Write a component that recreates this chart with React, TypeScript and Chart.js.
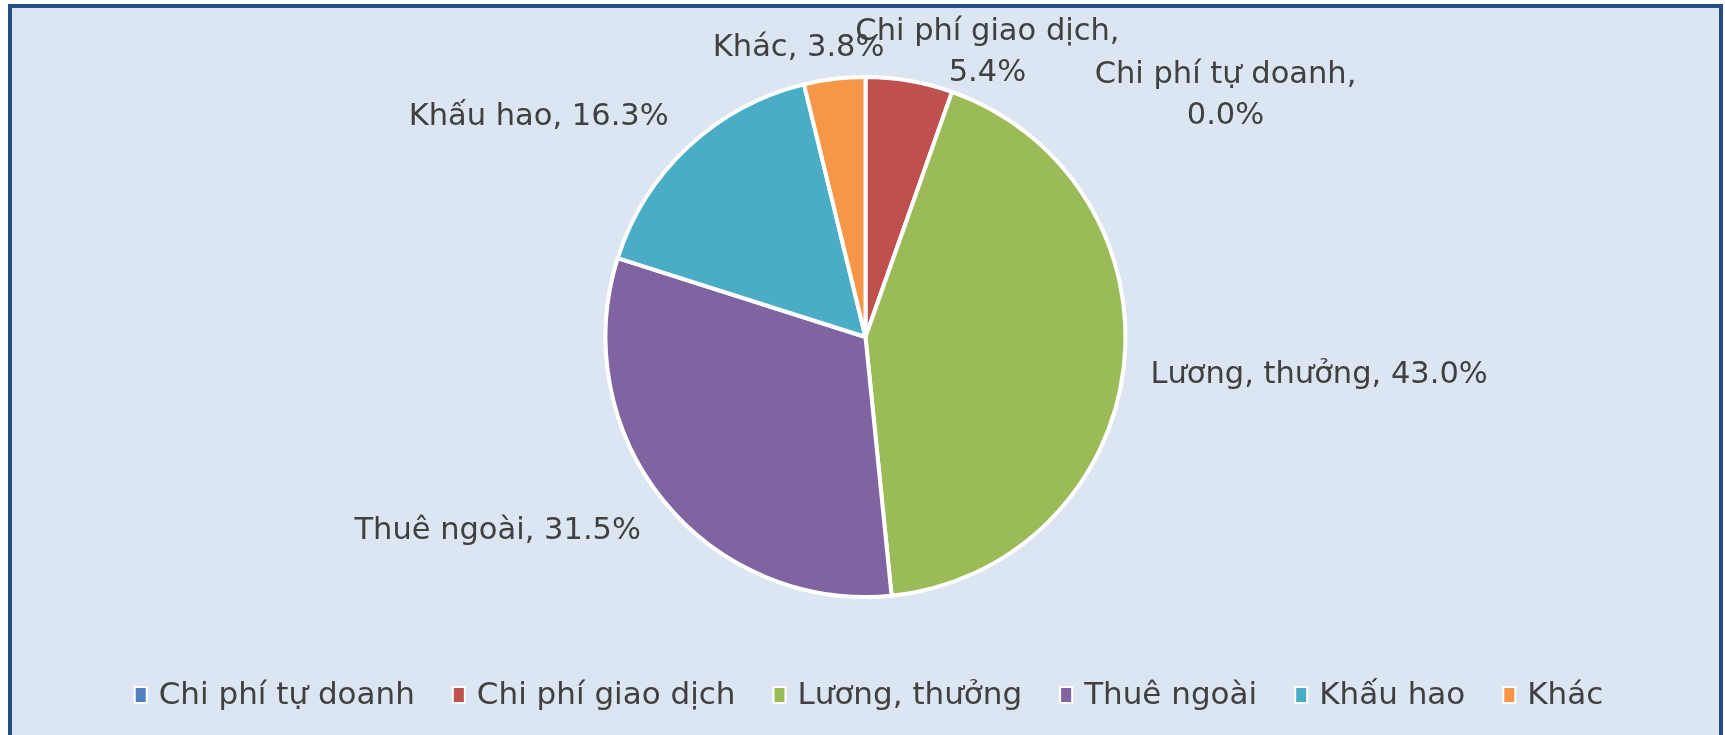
import React, { useEffect, useRef } from "react";
import { Chart, registerables } from "chart.js";

Chart.register(...registerables);

// ---- data ----
const categories = ["Chi phí tự doanh", "Chi phí giao dịch", "Lương, thưởng", "Thuê ngoài", "Khấu hao", "Khác"];
const shares = [0.0, 5.4, 43.0, 31.5, 16.3, 3.8];
const sliceColors = ["#4F81BD", "#C0504D", "#9BBB59", "#8064A2", "#4BACC6", "#F79646"];

// ---- style / layout hints ----
const FONT = '"DejaVu Sans", sans-serif';
const FONT_SIZE = 31;
const LABEL_FONT_SIZE = 30.5;
const TEXT = "#404040";
const labelWrap = [true, true, false, false, false, false];
const labelNudge = [[360, 43], [74, -4], [3, 4], [-4, 15], [-3, -12], [-33, -7]];

const labelPlugin = {
  id: "sliceLabels",
  afterDatasetsDraw(chart: any) {
    const ctx = chart.ctx;
    const meta = chart.getDatasetMeta(0);
    ctx.save();
    ctx.font = `${LABEL_FONT_SIZE}px ${FONT}`;
    ctx.fillStyle = TEXT;
    ctx.textBaseline = "middle";
    meta.data.forEach((arc: any, i: number) => {
      const { x, y, startAngle, endAngle, outerRadius } = arc.getProps(
        ["x", "y", "startAngle", "endAngle", "outerRadius"],
        true
      );
      const mid = (startAngle + endAngle) / 2;
      const r = outerRadius + 24;
      const c = Math.cos(mid);
      const ax = x + c * r + labelNudge[i][0];
      const ay = y + Math.sin(mid) * r + labelNudge[i][1];
      ctx.textAlign = c > 0.3 ? "left" : c < -0.3 ? "right" : "center";
      const pct = shares[i].toFixed(1) + "%";
      const lines = labelWrap[i] ? [categories[i] + ",", pct] : [categories[i] + ", " + pct];
      const lh = 41;
      lines.forEach((ln, k) => ctx.fillText(ln, ax, ay + (k - (lines.length - 1) / 2) * lh));
    });
    ctx.restore();
  },
};

const legendPlugin = {
  id: "bottomLegend",
  afterDraw(chart: any) {
    const ctx = chart.ctx;
    ctx.save();
    ctx.font = `${FONT_SIZE}px ${FONT}`;
    const boxW = 14, boxH = 18, gapText = 11, gapItem = 37;
    const widths = categories.map((c) => ctx.measureText(c).width);
    const total = widths.reduce((s, w) => s + boxW + gapText + w, 0) + gapItem * (categories.length - 1);
    let x = chart.width / 2 - total / 2 + 3;
    const yc = chart.height - 40;
    ctx.textBaseline = "middle";
    ctx.textAlign = "left";
    categories.forEach((c, i) => {
      ctx.fillStyle = "#FFFFFF";
      ctx.fillRect(x, yc - boxH / 2, boxW, boxH);
      ctx.fillStyle = sliceColors[i];
      ctx.fillRect(x + 2, yc - boxH / 2 + 2, boxW - 4, boxH - 4);
      x += boxW + gapText;
      ctx.fillStyle = TEXT;
      ctx.fillText(c, x, yc + 1);
      x += widths[i] + gapItem;
    });
    ctx.restore();
  },
};

export default function App() {
  const ref = useRef<HTMLCanvasElement>(null);
  useEffect(() => {
    if (!ref.current) return;
    const chart = new Chart(ref.current, {
      type: "pie",
      data: {
        labels: categories,
        datasets: [
          {
            data: shares,
            backgroundColor: sliceColors,
            borderColor: "#FFFFFF",
            borderWidth: 4,
          },
        ],
      },
      options: {
        responsive: false,
        animation: false,
        devicePixelRatio: 1,
        events: [],
        radius: 260,
        layout: { padding: { top: 0, bottom: 69, left: 0, right: 0 } },
        plugins: { legend: { display: false }, tooltip: { enabled: false } },
      } as any,
      plugins: [labelPlugin, legendPlugin],
    });
    return () => chart.destroy();
  }, []);
  return (
    <div
      style={{
        position: "absolute",
        left: 8,
        top: 4,
        width: 1715,
        height: 731,
        boxSizing: "border-box",
        border: "4px solid #254E85",
        borderBottom: "none",
        background: "#DCE6F2",
        overflow: "hidden",
      }}
    >
      <canvas ref={ref} width={1707} height={727} style={{ display: "block" }} />
    </div>
  );
}
